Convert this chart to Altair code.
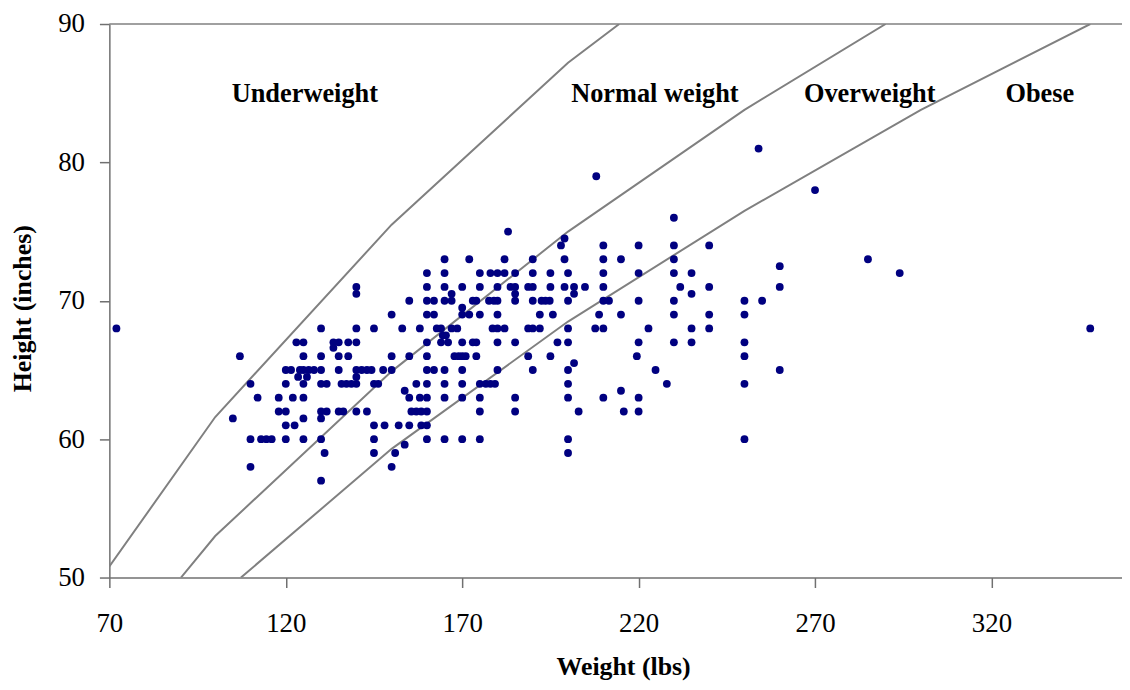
import altair as alt
import pandas as pd

# ---- scatter data (weight in lbs, height in inches) ----
weight = [
    72, 105, 107, 110, 110, 110, 112, 113, 114.5, 116, 118, 118,
    120, 120, 120, 120, 120, 121.5, 122, 122.5, 123, 123.5, 124,
    125, 125, 125, 125, 125, 125, 125, 126, 126.5, 128,
    130, 130, 130, 130, 130, 130, 130, 130, 131, 131.6, 131.6,
    133.5, 133.5, 135, 135, 135, 135, 135.8, 136.3, 137.2, 137.7, 137.7, 138.6,
    140, 140, 140, 140, 140, 140, 140, 140, 141.5, 143, 143, 144.3,
    145, 145, 145, 145, 145, 146.2, 147.6, 148, 150, 150, 150, 150, 151, 152, 153,
    153.7, 153.7, 155, 155, 155, 155, 155.6, 157, 157, 158, 158, 158.4, 158.4,
    208, 183, 199, 198, 210,
    165, 172, 182, 190, 199, 210, 215,
    160, 165, 175, 178, 180, 182, 185, 190, 195, 200, 210,
    160, 165, 170, 175, 180, 183.7, 185, 188.7, 190, 195, 199, 201.7, 204.8, 210,
    167, 185, 201.7,
    160, 162, 165, 167, 173, 174, 177.6, 179, 180, 185, 190, 192.5, 193.6, 194.8, 200, 210, 211.6,
    170,
    160, 162, 170, 172, 175, 180, 192, 195.7, 208.8, 215,
    162.8, 164, 167, 168.6, 178.6, 180, 182, 188.7, 190, 192, 200, 207.7, 210,
    164.5, 165.4,
    160, 164, 166, 170, 173, 174, 180, 185, 197, 200,
    160, 167.8, 169, 170, 171, 174, 188.7, 195,
    201.7,
    160, 162, 165, 170, 180, 190, 200,
    160, 165, 170, 175, 176.7, 178, 179.3, 200,
    215,
    160, 165, 170, 175, 185, 200, 210,
    160, 175, 185, 203, 215.8,
    160,
    160, 165, 170, 175, 200,
    200,
    220, 220, 220, 220, 219.5, 220, 220, 222.8, 224.8, 228,
    230, 230, 230, 230, 230, 230, 230, 231.8,
    235, 235, 235, 235, 240, 240, 240, 240,
    250, 250, 250, 250, 250, 250, 254, 255, 260, 260, 260, 270,
    285, 294, 348,
]
height = [
    68, 61.5, 66, 64, 60, 58, 63, 60, 60, 60, 63, 62,
    65, 64, 62, 61, 60, 65, 63, 61, 67, 64.5, 65,
    67, 66, 65, 64, 63, 61.5, 60, 64.5, 65, 65,
    68, 66, 65, 64, 62, 61.5, 60, 57, 59, 64, 62,
    67, 66.6, 67, 66, 65, 62, 64, 62, 64, 67, 66, 64,
    71, 70.5, 68, 67, 65, 64.5, 64, 62, 65, 65, 62, 65,
    68, 64, 61, 60, 59, 64, 65, 61, 69, 66, 65, 58, 59, 61, 68,
    63.5, 59.6, 70, 66, 63, 61, 62, 64, 62, 68, 63, 62, 61,
    79, 75, 74.5, 74, 74,
    73, 73, 73, 73, 73, 73, 73,
    72, 72, 72, 72, 72, 72, 72, 72, 72, 72, 72,
    71, 71, 71, 71, 71, 71, 71, 71, 71, 71, 71, 71, 71, 71,
    70.5, 70.5, 70.5,
    70, 70, 70, 70, 70, 70, 70, 70, 70, 70, 70, 70, 70, 70, 70, 70, 70,
    69.5,
    69, 69, 69, 69, 69, 69, 69, 69, 69, 69,
    68, 68, 68, 68, 68, 68, 68, 68, 68, 68, 68, 68, 68,
    67.5, 67.5,
    67, 67, 67, 67, 67, 67, 67, 67, 67, 67,
    66, 66, 66, 66, 66, 66, 66, 66,
    65.5,
    65, 65, 65, 65, 65, 65, 65,
    64, 64, 64, 64, 64, 64, 64, 64,
    63.5,
    63, 63, 63, 63, 63, 63, 63,
    62, 62, 62, 62, 62,
    61,
    60, 60, 60, 60, 60,
    59,
    74, 72, 70, 67, 66, 63, 62, 68, 65, 64,
    76, 74, 73, 72, 70, 69, 67, 71,
    72, 70.5, 68, 67, 74, 71, 69, 68,
    70, 69, 67, 66, 64, 60, 81, 70, 72.5, 71, 65, 78,
    73, 72, 68,
]

# ---- BMI boundary curves, vertices ----
under_w = [70, 100, 150, 200, 214.5]
under_h = [50.8, 61.6, 75.5, 87.2, 90]
normal_w = [90.3, 100, 150, 200, 250, 290]
normal_h = [50, 53.0, 64.9, 75.0, 83.8, 90]
over_w = [107.3, 150, 200, 250, 300, 348]
over_h = [50, 59.3, 68.5, 76.5, 83.8, 90]

# ---- region labels ----
label_text = ["Underweight", "Normal weight", "Overweight", "Obese"]
label_w = [125.4, 224.6, 285.5, 333.7]
label_h = [84.33, 84.33, 84.33, 84.33]

x_ticks = [70, 120, 170, 220, 270, 320]
y_ticks = [50, 60, 70, 80, 90]

pts = pd.DataFrame({"w": weight, "h": height})
lines = pd.concat([
    pd.DataFrame({"w": under_w, "h": under_h, "c": "a"}),
    pd.DataFrame({"w": normal_w, "h": normal_h, "c": "b"}),
    pd.DataFrame({"w": over_w, "h": over_h, "c": "c"}),
])
labels = pd.DataFrame({"t": label_text, "w": label_w, "h": label_h})
top = pd.DataFrame({"w": [70], "w2": [357], "h": [90]})

xscale = alt.Scale(domain=[70, 357], nice=False, zero=False)
yscale = alt.Scale(domain=[50, 90], nice=False, zero=False)
xaxis = alt.Axis(values=x_ticks, title="Weight (lbs)", grid=False, tickSize=10,
                 labelPadding=44, labelBaseline="alphabetic", labelFlush=False,
                 labelOverlap=False, titleX=517, titleY=98, titleAlign="center",
                 titleBaseline="alphabetic")
yaxis = alt.Axis(values=y_ticks, title="Height (inches)", grid=False, tickSize=10,
                 labelPadding=15, labelOverlap=False, labelFlush=False,
                 titleX=-79, titleY=286, titleAlign="center", titleAngle=270,
                 titleBaseline="alphabetic")

X = alt.X("w:Q", scale=xscale, axis=xaxis)
Y = alt.Y("h:Q", scale=yscale, axis=yaxis)

border = alt.Chart(top).mark_rule(color="#808080", strokeWidth=1.5).encode(
    x=X, x2="w2:Q", y=Y)

curves = alt.Chart(lines).mark_line(color="#808080", strokeWidth=2, clip=True).encode(
    x=X, y=Y, detail="c:N")

dots = alt.Chart(pts).mark_circle(size=62, color="#000080", opacity=1).encode(x=X, y=Y)

texts = alt.Chart(labels).mark_text(font="Liberation Serif", fontSize=26.5, fontWeight="bold",
                                    color="black", align="center",
                                    baseline="alphabetic").encode(x=X, y=Y, text="t:N")

chart = alt.layer(border, curves, dots, texts).properties(
    width=1019, height=557,
    padding={"left": 102, "top": 14, "right": 0, "bottom": 103},
    autosize=alt.AutoSizeParams(type="none"),
).configure_view(stroke=None).configure_axis(
    labelFont="Liberation Serif", labelFontSize=27, labelColor="black",
    titleFont="Liberation Serif", titleFontSize=26, titleFontWeight="bold", titleColor="black",
    domainColor="#707070", domainWidth=1.5, tickColor="#707070", tickWidth=1.5,
)

chart.save("out.html", embed_options={"renderer": "svg", "actions": False})
